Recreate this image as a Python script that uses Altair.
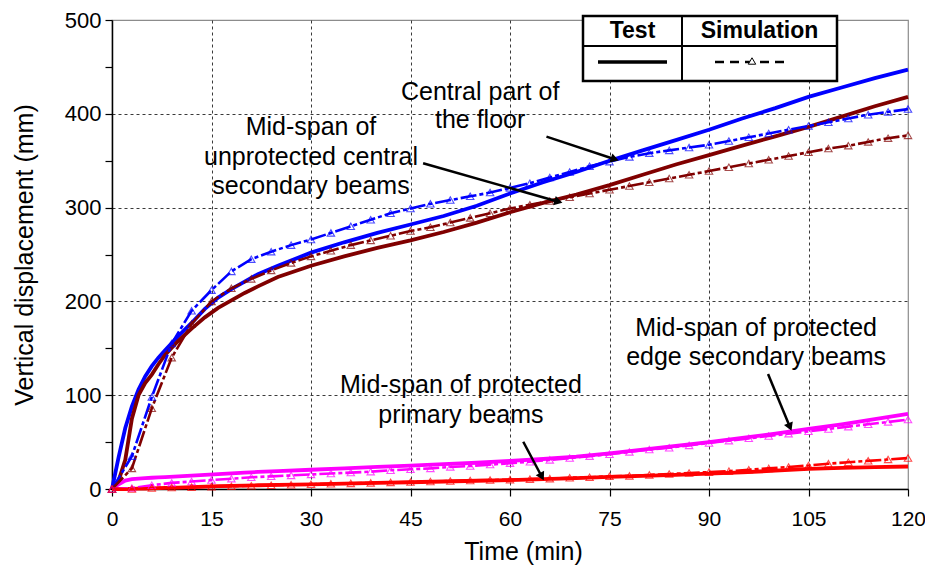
import altair as alt
import pandas as pd
import numpy as np

# ---------------- data ----------------
SERIES = [
    "Central part of the floor",
    "Mid-span of unprotected central secondary beams",
    "Mid-span of protected edge secondary beams",
    "Mid-span of protected primary beams",
]
COLORS = ["#0000FF", "#800000", "#FF00FF", "#FF0000"]

T_TEST = [0, 1, 2, 3, 4, 5, 6, 7, 8, 10, 12, 14, 16, 18, 20, 22, 25, 30, 35, 40,
          45, 50, 55, 60, 65, 70, 75, 80, 85, 90, 95, 100, 105, 110, 115, 120]
CENTRAL_TEST = [0, 34, 65, 88, 106, 120, 131, 140, 148, 163, 177, 192, 204, 213, 221, 229, 238, 252, 263, 273,
                282, 291, 302, 315, 327, 338, 350, 361, 372, 383, 395, 406, 418, 428, 438, 447]
UNPROT_TEST = [0, 9, 31, 75, 100, 113, 122, 133, 143, 158, 171, 183, 193, 201, 209, 216, 226, 238, 248, 257,
               265, 274, 284, 295, 305, 314, 324, 335, 346, 356, 366, 376, 386, 397, 408, 418]
EDGE_TEST = [0, 5, 9, 10.5, 11, 11.5, 12, 12.3, 12.7, 13.5, 14.3, 15, 15.8, 16.6, 17.4, 18.2, 19, 20.5, 22, 23.5,
             25, 26.5, 28, 30, 32, 34.5, 38, 42, 46, 50, 54.5, 59, 64, 69, 74.5, 80]
PRIMARY_TEST = [0, 0, 0, 0.2, 0.3, 0.5, 0.7, 0.9, 1.1, 1.5, 2, 2.5, 3, 3.3, 3.6, 4, 4.4, 5, 5.8, 6.5,
                7.2, 8, 8.8, 9.5, 10.5, 11.5, 13, 14, 15, 16.3, 17.8, 19.5, 21.5, 22.5, 23.3, 24]

T_SIM = list(range(0, 121, 3))
CENTRAL_SIM = [0, 35, 98, 155, 190, 212, 232, 245, 253, 260, 266, 273, 280, 287, 294, 299, 304, 308, 312, 316,
               321, 326, 332, 338, 344, 349, 354, 358, 361, 364, 367, 371, 375, 379, 383, 387, 391, 395, 399, 402, 405]
UNPROT_SIM = [0, 22, 86, 140, 176, 200, 214, 224, 233, 241, 248, 254, 260, 265, 270, 275, 279, 284, 289, 294,
              299, 303, 307, 311, 315, 319, 323, 327, 331, 335, 339, 343, 347, 351, 355, 359, 363, 366, 370, 374, 377]
EDGE_SIM = [0, 1, 4, 6.5, 8, 9.5, 11, 12.5, 13.5, 14.5, 15.5, 16.5, 17.5, 18.5, 20, 21, 22, 23.5, 24.5, 26,
            27.5, 29, 31, 33, 35, 37, 39.5, 42, 44, 46.5, 49, 51.5, 54, 56.5, 59, 61.5, 64, 66.5, 69, 71.5, 74]
PRIMARY_SIM = [0, 0, 1, 1.5, 2, 2.5, 3, 3.5, 4, 4.5, 5, 5.5, 6, 6.5, 7, 7.5, 8, 8.5, 9, 9.5,
               10, 10.5, 11, 12, 12.5, 13.5, 14, 15, 16, 17, 18, 19, 20.5, 22, 23.5, 25, 27, 28.5, 30, 31.5, 33]

X_TICKS = [0, 15, 30, 45, 60, 75, 90, 105, 120]
Y_TICKS = [0, 50, 100, 150, 200, 250, 300, 350, 400, 450, 500]

# annotation text lines (x in min, y in mm) and arrows (start -> end)
ANN_TEXT = ["Central part of", "the floor",
            "Mid-span of", "unprotected central", "secondary beams",
            "Mid-span of protected", "edge secondary beams",
            "Mid-span of protected", "primary beams"]
ANN_T = [55.5, 55.5, 30.0, 30.0, 30.0, 97.1, 97.1, 52.6, 52.6]
ANN_V = [423.6, 393.0, 385.9, 353.9, 323.0, 171.6, 140.4, 110.9, 78.9]
ARROW_T1 = [65.5, 46.9, 98.9, 62.0]
ARROW_V1 = [375.6, 347.2, 122.6, 50.4]
ARROW_T2 = [75.8, 67.3, 102.2, 64.8]
ARROW_V2 = [351.5, 306.3, 66.1, 13.1]

# ---------------- layout ----------------
W, H = 796, 469
FONT = "Liberation Sans"
PX_T = W / 120.0
PX_V = H / 500.0

test_vals = [CENTRAL_TEST, UNPROT_TEST, EDGE_TEST, PRIMARY_TEST]
sim_vals = [CENTRAL_SIM, UNPROT_SIM, EDGE_SIM, PRIMARY_SIM]
test_df = pd.concat([pd.DataFrame({"t": T_TEST, "v": vals, "s": name})
                     for name, vals in zip(SERIES, test_vals)], ignore_index=True)
sim_df = pd.concat([pd.DataFrame({"t": T_SIM, "v": vals, "s": name})
                    for name, vals in zip(SERIES, sim_vals)], ignore_index=True)

color = alt.Color("s:N", scale=alt.Scale(domain=SERIES, range=COLORS), legend=None)

X_AXIS = alt.Axis(values=X_TICKS, title="Time (min)", grid=True, labelFlush=False,
                  gridOpacity={"condition": {"test": "datum.value > 0 && datum.value < 120", "value": 1}, "value": 0},
                  titleX=411, titleY=62, titleBaseline="middle", titleAlign="center",
                  labelPadding=12, tickSize=7, labelFontSize=21)
Y_AXIS = alt.Axis(values=Y_TICKS, title="Vertical displacement (mm)", grid=True, labelFlush=False,
                  gridOpacity={"condition": {"test": "datum.value % 100 === 0 && datum.value > 0 && datum.value < 500", "value": 1}, "value": 0},
                  labelExpr="datum.value % 100 === 0 ? datum.label : ''",
                  titleX=-88, titleY=H / 2, titleAngle=270, titleBaseline="middle",
                  titleAlign="center", labelPadding=4, tickSize=7)
X_SCALE = alt.Scale(domain=[0, 120], nice=False, zero=False)
Y_SCALE = alt.Scale(domain=[0, 500], nice=False)


def xe(field="t"):
    return alt.X(f"{field}:Q", scale=X_SCALE, axis=X_AXIS)


def ye(field="v"):
    return alt.Y(f"{field}:Q", scale=Y_SCALE, axis=Y_AXIS)


test_lines = alt.Chart(test_df).mark_line(strokeWidth=3.8).encode(
    x=xe(), y=ye(), color=color, detail="s:N", order="t:Q")
sim_lines = alt.Chart(sim_df).mark_line(strokeWidth=2.6, strokeDash=[16, 3, 4, 3]).encode(
    x=xe(), y=ye(), color=color, detail="s:N", order="t:Q")
sim_pts = alt.Chart(sim_df).mark_point(shape="triangle-up", filled=False, size=55, strokeWidth=1.1).encode(
    x=xe(), y=ye(), color=color)

ann_df = pd.DataFrame({"t": ANN_T, "v": ANN_V, "txt": ANN_TEXT})
ann_text = alt.Chart(ann_df).mark_text(font=FONT, fontSize=25, color="black", align="center",
                                       baseline="middle").encode(x=xe(), y=ye(), text="txt:N")

arr_df = pd.DataFrame({"t": ARROW_T1, "v": ARROW_V1, "t2": ARROW_T2, "v2": ARROW_V2})
dx = (arr_df["t2"] - arr_df["t"]) * PX_T
dy = -(arr_df["v2"] - arr_df["v"]) * PX_V
arr_df["ang"] = (np.degrees(np.arctan2(dx, -dy)) + 360) % 360
head_df = pd.DataFrame({"t": arr_df["t2"], "v": arr_df["v2"], "ang": arr_df["ang"]})
arrow_lines = alt.Chart(arr_df).mark_rule(color="black", strokeWidth=2.5).encode(
    x=xe(), y=ye(), x2="t2:Q", y2="v2:Q")
arrow_heads = alt.Chart(head_df).mark_point(shape="triangle-up", filled=True, color="black",
                                            size=90, opacity=1).encode(
    x=xe(), y=ye(), angle=alt.Angle("ang:Q", scale=None))

# ---------------- legend table (pixel layout) ----------------
one = pd.DataFrame({"a": [0]})
LX0, LX1, LY0, LY1, LXM, LYM = 471, 725, -4, 61, 570, 26
leg_box = alt.Chart(one).mark_rect(fill="white", stroke="black", strokeWidth=2.5).encode(
    x=alt.value(LX0), x2=alt.value(LX1), y=alt.value(LY0), y2=alt.value(LY1))
leg_v = alt.Chart(one).mark_rule(color="black", strokeWidth=2).encode(
    x=alt.value(LXM), y=alt.value(LY0), y2=alt.value(LY1))
leg_h = alt.Chart(one).mark_rule(color="black", strokeWidth=2).encode(
    x=alt.value(LX0), x2=alt.value(LX1), y=alt.value(LYM))
leg_t1 = alt.Chart(one).mark_text(font=FONT, fontSize=23, fontWeight="bold", color="black",
                                  align="center", baseline="middle").encode(
    x=alt.value((LX0 + LXM) / 2), y=alt.value(11), text=alt.value("Test"))
leg_t2 = alt.Chart(one).mark_text(font=FONT, fontSize=23, fontWeight="bold", color="black",
                                  align="center", baseline="middle").encode(
    x=alt.value((LXM + LX1) / 2), y=alt.value(11), text=alt.value("Simulation"))
leg_l1 = alt.Chart(one).mark_rule(color="black", strokeWidth=3.5).encode(
    x=alt.value(486), x2=alt.value(555), y=alt.value(42))
leg_l2 = alt.Chart(one).mark_rule(color="black", strokeWidth=2.5, strokeDash=[9, 6]).encode(
    x=alt.value(603), x2=alt.value(674), y=alt.value(42))
leg_p2 = alt.Chart(one).mark_point(shape="triangle-up", filled=True, fill="white", stroke="black",
                                   size=55, strokeWidth=1, opacity=1).encode(
    x=alt.value(640), y=alt.value(41))

chart = alt.layer(
    test_lines, sim_lines, sim_pts, arrow_lines, arrow_heads, ann_text,
    leg_box, leg_v, leg_h, leg_t1, leg_t2, leg_l1, leg_l2, leg_p2,
).properties(
    width=W, height=H,
    autosize=alt.AutoSizeParams(type="none"),
    padding={"left": 104, "top": 12, "right": 17, "bottom": 76},
).configure_view(
    stroke="#8c8c8c", strokeWidth=1.2
).configure_axis(
    domainColor="black", domainWidth=1.5, tickColor="black", tickWidth=1.2,
    labelFont=FONT, labelFontSize=22, labelColor="black",
    titleFont=FONT, titleFontSize=25, titleFontWeight="normal", titleColor="black",
    gridColor="#3a3a3a", gridDash=[3, 3], gridWidth=1,
)

chart.save("out.html", embed_options={"renderer": "svg", "actions": False})
